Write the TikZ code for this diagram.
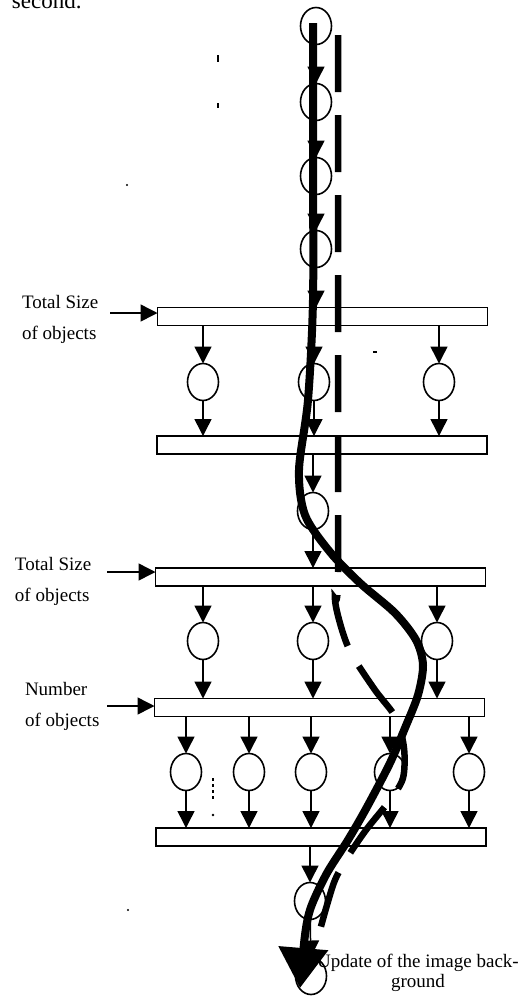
\documentclass[tikz,border=0pt]{standalone}
\usepackage{fontspec}
\setmainfont{Liberation Serif}
\usetikzlibrary{arrows.meta,shapes.geometric}

\begin{document}
\begin{tikzpicture}[x=1pt,y=-1pt,
  every node/.style={inner sep=0pt,outer sep=0pt},
  place/.style={draw,ellipse,line width=1.6pt,minimum width=31pt,minimum height=37pt},
  bar/.style={draw,rectangle,line width=1.6pt,minimum width=330pt,minimum height=18pt},
  arr/.style={line width=1.5pt,-{Triangle[length=17pt,width=17pt]}},
  lbl/.style={font=\fontsize{19}{31}\selectfont,align=left,anchor=north west},
  flow/.style={line width=8pt},
  altflow/.style={line width=6.5pt,dash pattern=on 57pt off 23pt},
  speck/.style={line width=1.2pt}
]
\useasboundingbox (0,0) rectangle (525,997);

% heading fragment
\node[font=\fontsize{23}{27}\selectfont,anchor=base west] (head) at (12,8) {second.};

% bars
\node[bar] (bar1) at (322.5,316.5) {};
\node[bar] (bar2) at (322,445) {};
\node[bar] (bar3) at (320.5,577) {};
\node[bar] (bar4) at (319.5,707.5) {};
\node[bar] (bar5) at (321,837) {};

% input labels and arrows
\node[lbl] (lab1) at (22,295) {Total Size\\of objects};
\node[lbl] (lab2) at (15,557) {Total Size\\of objects};
\node[lbl] (lab3) at (25,682) {Number\\of objects};
\coordinate (in1) at (110,313);
\coordinate (in3) at (107,572);
\coordinate (in4) at (107,706);
\draw[arr] (in1) -- (in1 -| bar1.west);
\draw[arr] (in3) -- (in3 -| bar3.west);
\draw[arr] (in4) -- (in4 -| bar4.west);

% top column
\node[place] (c1) at (316,26) {};
\node[place] (c2) at (316,102) {};
\node[place] (c3) at (316,176) {};
\node[place] (c4) at (316,249) {};
\draw[arr] (c1) -- (c2);
\draw[arr] (c2) -- (c3);
\draw[arr] (c3) -- (c4);
\draw[arr] (c4) -- (c4 |- bar1.north);

% row between bar1 and bar2
\foreach \n/\x in {a/203,b/314,c/439}{
  \node[place] (r1\n) at (\x,382) {};
  \draw[arr] (r1\n |- bar1.south) -- (r1\n);
  \draw[arr] (r1\n) -- (r1\n |- bar2.north);
}

% single place between bar2 and bar3
\node[place] (m1) at (313,511) {};
\draw[arr] (m1 |- bar2.south) -- (m1);
\draw[arr] (m1) -- (m1 |- bar3.north);

% row between bar3 and bar4
\foreach \n/\x in {a/203,b/313,c/437}{
  \node[place] (r3\n) at (\x,641) {};
  \draw[arr] (r3\n |- bar3.south) -- (r3\n);
  \draw[arr] (r3\n) -- (r3\n |- bar4.north);
}

% row between bar4 and bar5
\foreach \n/\x in {a/186,b/249,c/311,d/390,e/469}{
  \node[place] (r4\n) at (\x,772) {};
  \draw[arr] (r4\n |- bar4.south) -- (r4\n);
  \draw[arr] (r4\n) -- (r4\n |- bar5.north);
}

% bottom column
\node[place] (b1) at (310,901) {};
\node[place] (b2) at (311,976) {};
\draw[arr] (b1 |- bar5.south) -- (b1);
\draw[arr] (b1) -- (b2);

% final caption (anchor = baseline of its last line)
\node[font=\fontsize{19}{20}\selectfont,align=center,anchor=base] (cap) at (418,987)
  {Update of the image back-\\ground};

% dashed path
\draw[altflow] plot[smooth,tension=0.5] coordinates {
  (338,35) (338,300) (338,575) (335,600) (342,630) (352,655) (375,690)
  (396,718) (404,748) (403,778) (390,800) (366,830) (347,858)
  (335,880) (327,905) (320,930)};

% thick solid path with its head
\draw[flow,-{Triangle[length=40pt,width=48pt]}] plot[smooth,tension=0.5] coordinates {
  (313,23) (313,160) (313,300) (308,400) (299,470) (305,515) (330,552)
  (360,583) (395,613) (416,640) (423,665) (418,695) (405,728) (390,763)
  (367,807) (348,840) (327,873) (311,907) (305,935) (300,988)};

% small specks
\draw[speck] (218,55) -- (218,62);
\draw[speck] (218,103) -- (218,108);
\fill (127,185) circle (1.2pt);
\draw[speck] (373,352) -- (377,352);
\fill (128,910) circle (1.2pt);
\draw[speck,dash pattern=on 3pt off 3pt] (213,778) -- (213,800);
\fill (213,815) circle (1.3pt);
\end{tikzpicture}
\end{document}
